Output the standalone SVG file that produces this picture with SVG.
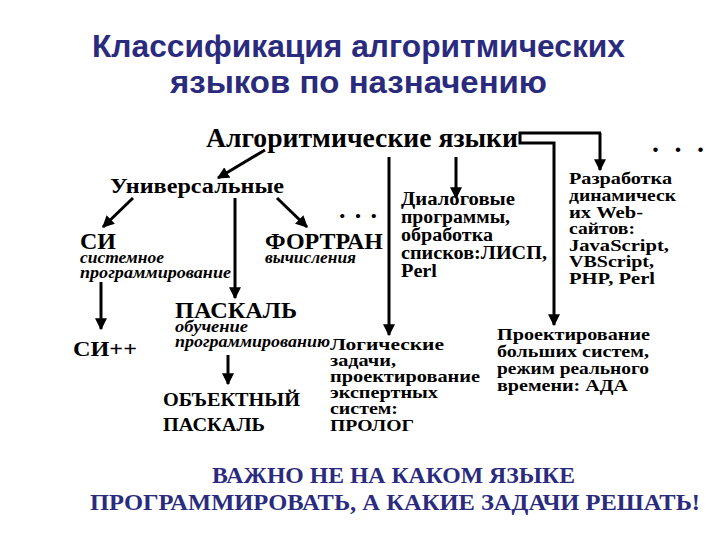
<svg xmlns="http://www.w3.org/2000/svg" width="720" height="540" viewBox="0 0 720 540">
<style>
text{white-space:pre}
.t{font-family:"Liberation Sans",Arial,sans-serif;font-weight:bold;fill:#2b2b7e}
.b{font-family:"Liberation Serif","Times New Roman",serif;font-weight:bold;fill:#000}
.i{font-family:"Liberation Serif","Times New Roman",serif;font-style:italic;font-weight:bold;fill:#000}
.n{font-family:"Liberation Serif","Times New Roman",serif;font-weight:bold;fill:#2b2b7e}
.c{stroke:#000;stroke-width:3;fill:none}
</style>
<defs>
<marker id="ah" viewBox="0 0 10 10" refX="9" refY="5" markerWidth="4" markerHeight="4" orient="auto" markerUnits="strokeWidth">
<path d="M0,0 L10,5 L0,10 z" fill="#000"/>
</marker>
</defs>
<rect width="720" height="540" fill="#fff"/>
<g id="title">
<text class="t" x="92" y="57" font-size="31" textLength="533" lengthAdjust="spacingAndGlyphs">Классификация алгоритмических</text>
<text class="t" x="170" y="93" font-size="31" textLength="377" lengthAdjust="spacingAndGlyphs">языков по назначению</text>
</g>
<g id="connectors">
<path class="c" d="M265,150 L218,178" marker-end="url(#ah)"/>
<path class="c" d="M133,198 L103,227" marker-end="url(#ah)"/>
<path class="c" d="M277,198 L307,227" marker-end="url(#ah)"/>
<path class="c" d="M235,198 L235,298" marker-end="url(#ah)"/>
<path class="c" d="M101,282 L101,329" marker-end="url(#ah)"/>
<path class="c" d="M228,355 L228,384" marker-end="url(#ah)"/>
<path class="c" d="M389,157 L389,335" marker-end="url(#ah)"/>
<path class="c" d="M456,157 L456,198" marker-end="url(#ah)"/>
<path class="c" d="M601,133 L520,133 L520,143 L554,143 L554,325" marker-end="url(#ah)"/>
<path class="c" d="M600,133 L600,170" marker-end="url(#ah)"/>
</g>
<g id="root">
<text class="b" x="206" y="147" font-size="27" textLength="312" lengthAdjust="spacingAndGlyphs">Алгоритмические языки</text>
</g>
<g id="dots1"><text class="b" x="652" y="152" font-size="28" textLength="52" lengthAdjust="spacing">. . .</text></g>
<g id="universal"><text class="b" x="110" y="193" font-size="20" textLength="174" lengthAdjust="spacingAndGlyphs">Универсальные</text></g>
<g id="dots2"><text class="b" x="339" y="218" font-size="26" textLength="38" lengthAdjust="spacing">. . .</text></g>
<g id="c">
<text class="b" x="80" y="249" font-size="24" textLength="36" lengthAdjust="spacingAndGlyphs">СИ</text>
<text class="i" x="80" y="263" font-size="16" textLength="84" lengthAdjust="spacingAndGlyphs">системное</text>
<text class="i" x="80" y="278" font-size="16" textLength="151" lengthAdjust="spacingAndGlyphs">программирование</text>
</g>
<g id="fortran">
<text class="b" x="265" y="249" font-size="24" textLength="118" lengthAdjust="spacingAndGlyphs">ФОРТРАН</text>
<text class="i" x="265" y="263" font-size="16" textLength="91" lengthAdjust="spacingAndGlyphs">вычисления</text>
</g>
<g id="dialog">
<text class="b" x="401" y="205" font-size="18" textLength="114" lengthAdjust="spacingAndGlyphs">Диалоговые</text>
<text class="b" x="401" y="223" font-size="18" textLength="109" lengthAdjust="spacingAndGlyphs">программы,</text>
<text class="b" x="401" y="241" font-size="18" textLength="92" lengthAdjust="spacingAndGlyphs">обработка</text>
<text class="b" x="401" y="259" font-size="18" textLength="146" lengthAdjust="spacingAndGlyphs">списков:ЛИСП,</text>
<text class="b" x="401" y="277" font-size="18" textLength="36" lengthAdjust="spacingAndGlyphs">Perl</text>
</g>
<g id="web">
<text class="b" x="569" y="184" font-size="17" textLength="103" lengthAdjust="spacingAndGlyphs">Разработка</text>
<text class="b" x="569" y="201" font-size="17" textLength="107" lengthAdjust="spacingAndGlyphs">динамическ</text>
<text class="b" x="569" y="218" font-size="17" textLength="74" lengthAdjust="spacingAndGlyphs">их Web-</text>
<text class="b" x="569" y="234" font-size="17" textLength="66" lengthAdjust="spacingAndGlyphs">сайтов:</text>
<text class="b" x="569" y="251" font-size="17" textLength="100" lengthAdjust="spacingAndGlyphs">JavaScript,</text>
<text class="b" x="569" y="267" font-size="17" textLength="85" lengthAdjust="spacingAndGlyphs">VBScript,</text>
<text class="b" x="569" y="284" font-size="17" textLength="86" lengthAdjust="spacingAndGlyphs">PHP, Perl</text>
</g>
<g id="pascal">
<text class="b" x="175" y="318" font-size="23" textLength="122" lengthAdjust="spacingAndGlyphs">ПАСКАЛЬ</text>
<text class="i" x="175" y="332" font-size="16" textLength="73" lengthAdjust="spacingAndGlyphs">обучение</text>
<text class="i" x="175" y="347" font-size="16" textLength="155" lengthAdjust="spacingAndGlyphs">программированию</text>
</g>
<g id="cpp"><text class="b" x="73" y="356" font-size="21" textLength="64" lengthAdjust="spacingAndGlyphs">СИ++</text></g>
<g id="objpascal">
<text class="b" x="163" y="406" font-size="19" textLength="137" lengthAdjust="spacingAndGlyphs">ОБЪЕКТНЫЙ</text>
<text class="b" x="163" y="431" font-size="19" textLength="102" lengthAdjust="spacingAndGlyphs">ПАСКАЛЬ</text>
</g>
<g id="prolog">
<text class="b" x="330" y="350" font-size="17" textLength="114" lengthAdjust="spacingAndGlyphs">Логические</text>
<text class="b" x="330" y="366" font-size="17" textLength="66" lengthAdjust="spacingAndGlyphs">задачи,</text>
<text class="b" x="330" y="382" font-size="17" textLength="150" lengthAdjust="spacingAndGlyphs">проектирование</text>
<text class="b" x="330" y="398" font-size="17" textLength="108" lengthAdjust="spacingAndGlyphs">экспертных</text>
<text class="b" x="330" y="414" font-size="17" textLength="68" lengthAdjust="spacingAndGlyphs">систем:</text>
<text class="b" x="330" y="431" font-size="17" textLength="84" lengthAdjust="spacingAndGlyphs">ПРОЛОГ</text>
</g>
<g id="ada">
<text class="b" x="497" y="340" font-size="17" textLength="153" lengthAdjust="spacingAndGlyphs">Проектирование</text>
<text class="b" x="497" y="357" font-size="17" textLength="152" lengthAdjust="spacingAndGlyphs">больших систем,</text>
<text class="b" x="497" y="374" font-size="17" textLength="152" lengthAdjust="spacingAndGlyphs">режим реального</text>
<text class="b" x="497" y="391" font-size="17" textLength="131" lengthAdjust="spacingAndGlyphs">времени: АДА</text>
</g>
<g id="note">
<text class="n" x="212" y="483" font-size="24" textLength="363" lengthAdjust="spacingAndGlyphs">ВАЖНО НЕ НА КАКОМ ЯЗЫКЕ</text>
<text class="n" x="90" y="510" font-size="24" textLength="610" lengthAdjust="spacingAndGlyphs">ПРОГРАММИРОВАТЬ, А КАКИЕ ЗАДАЧИ РЕШАТЬ!</text>
</g>
</svg>
